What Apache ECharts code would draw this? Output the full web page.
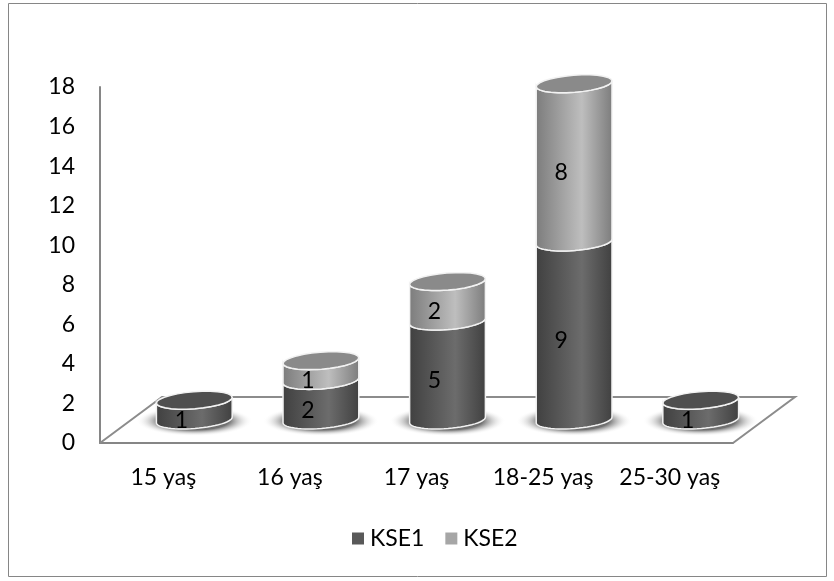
<!DOCTYPE html>
<html>
<head>
<meta charset="utf-8">
<style>html,body{margin:0;padding:0;background:#fff}#main{width:834px;height:581px}</style>
<script src="https://cdn.jsdelivr.net/npm/echarts@6/dist/echarts.min.js"></script>
</head>
<body>
<div id="main"></div>
<script>
var categories = ['15 yaş', '16 yaş', '17 yaş', '18-25 yaş', '25-30 yaş'];
var kse1 = [1, 2, 5, 9, 1];
var kse2 = [0, 1, 2, 8, 0];
var yTicks = {min: 0, max: 18, interval: 2};

var myChart = echarts.init(document.getElementById('main'));

// fake depth of the 3d floor, px
var depthX = 62, depthY = 46;
var rx = 38, ry = 8.5, tilt = -4.5 * Math.PI / 180;
var labelFont = '23px Lato';

// points on a tilted ellipse
function arc(cx, cy, from, to) {
	var pts = [], n = 28;
	for (var i = 0; i <= n; i++) {
		var t = from + (to - from) * i / n;
		var ex = rx * Math.cos(t), ey = ry * Math.sin(t);
		pts.push([
			cx + ex * Math.cos(tilt) - ey * Math.sin(tilt),
			cy + ex * Math.sin(tilt) + ey * Math.cos(tilt)
		]);
	}
	return pts;
}

function cylinderSeries(name, values, below, colors) {
	return {
		name: name,
		type: 'custom',
		coordinateSystem: 'cartesian2d',
		itemStyle: {color: colors.legend},
		z: 5,
		encode: {x: 0, y: 1},
		data: values.map(function (v, i) {
			return [i, below[i] + v, below[i], v];
		}),
		renderItem: function (params, api) {
			var value = api.value(3);
			if (!value) return null;
			var cat = api.value(0);
			var top = api.coord([cat, api.value(1)]);
			var base = api.coord([cat, api.value(2)]);
			var cx = top[0] + depthX / 2;
			var topY = top[1] - depthY / 2;
			var baseY = base[1] - depthY / 2;
			var isGround = api.value(2) === 0;
			var isTop = api.value(1) === kse1[cat] + kse2[cat];
			var children = [];
			if (isGround) {
				// soft shadow on the floor
				children.push({
					type: 'circle',
					x: cx,
					y: baseY + 1,
					scaleY: 0.26,
					shape: {cx: 0, cy: 0, r: 58},
					style: {
						fill: new echarts.graphic.RadialGradient(0.5, 0.5, 0.5, [
							{offset: 0, color: '#6a6a6a'},
							{offset: 0.6, color: '#707070'},
							{offset: 1, color: 'rgba(255,255,255,0)'}
						])
					}
				});
			}
			var body = arc(cx, baseY, Math.PI, 0).concat(arc(cx, topY, 0, Math.PI));
			children.push({
				type: 'polygon',
				shape: {points: body},
				style: {
					fill: new echarts.graphic.LinearGradient(0, 0, 1, 0, [
						{offset: 0, color: colors.edge},
						{offset: 0.6, color: colors.mid},
						{offset: 1, color: colors.edge}
					]),
					stroke: '#f2f2f2',
					lineWidth: 1.5
				}
			});
			if (isTop) {
				children.push({
					type: 'polygon',
					shape: {points: arc(cx, topY, 0, Math.PI * 2)},
					style: {fill: colors.cap, stroke: '#f2f2f2', lineWidth: 1.5}
				});
			}
			children.push({
				type: 'text',
				z2: 20,
				style: {
					x: top[0] + 18,
					y: (top[1] + base[1]) / 2 - 13,
					text: String(value),
					fill: '#000',
					font: labelFont,
					align: 'center',
					verticalAlign: 'middle'
				}
			});
			return {type: 'group', children: children};
		}
	};
}

var zeros = kse1.map(function () { return 0; });

var option = {
	animation: false,
	backgroundColor: '#fff',
	graphic: [{
		type: 'rect',
		shape: {x: 8.5, y: 3.5, width: 818, height: 573},
		style: {fill: 'none', stroke: '#868686', lineWidth: 1},
		silent: true
	}],
	legend: {
		data: ['KSE1', 'KSE2'],
		left: 347,
		top: 522,
		icon: 'rect',
		itemWidth: 12,
		itemHeight: 12,
		itemGap: 21,
		textStyle: {fontFamily: 'Lato', fontSize: 23, color: '#000', padding: [0, 0, 0, 1]}
	},
	grid: {left: 100, right: 101, top: 87, bottom: 138},
	xAxis: [{
		type: 'category',
		data: categories,
		axisLine: {lineStyle: {color: '#868686', width: 2}},
		axisTick: {show: false},
		axisLabel: {fontFamily: 'Lato', fontSize: 23, color: '#000', margin: 23, interval: 0}
	}],
	yAxis: [{
		type: 'value',
		min: yTicks.min,
		max: yTicks.max,
		interval: yTicks.interval,
		axisLine: {show: true, lineStyle: {color: '#868686', width: 2}},
		axisTick: {show: false},
		splitLine: {show: false},
		axisLabel: {fontFamily: 'Lato', fontSize: 23, color: '#000', margin: 25}
	}],
	series: [{
		type: 'custom',
		name: 'floor',
		z: 1,
		silent: true,
		data: [[0, 0]],
		encode: {x: 0, y: 1},
		renderItem: function (params, api) {
			var cs = params.coordSys;
			var y = api.coord([0, 0])[1];
			return {
				type: 'polyline',
				shape: {points: [
					[cs.x, y],
					[cs.x + depthX, y - depthY],
					[cs.x + cs.width + depthX, y - depthY],
					[cs.x + cs.width, y]
				]},
				style: {fill: 'none', stroke: '#8c8c8c', lineWidth: 2}
			};
		}
	},
	cylinderSeries('KSE1', kse1, zeros, {legend: '#595959', edge: '#404040', mid: '#6c6c6c', cap: '#4f4f4f'}),
	cylinderSeries('KSE2', kse2, kse1, {legend: '#a6a6a6', edge: '#7c7c7c', mid: '#bebebe', cap: '#8a8a8a'})]
};

myChart.setOption(option);

window.onresize = function() {
	myChart.resize();
}
</script>
</body>
</html>
